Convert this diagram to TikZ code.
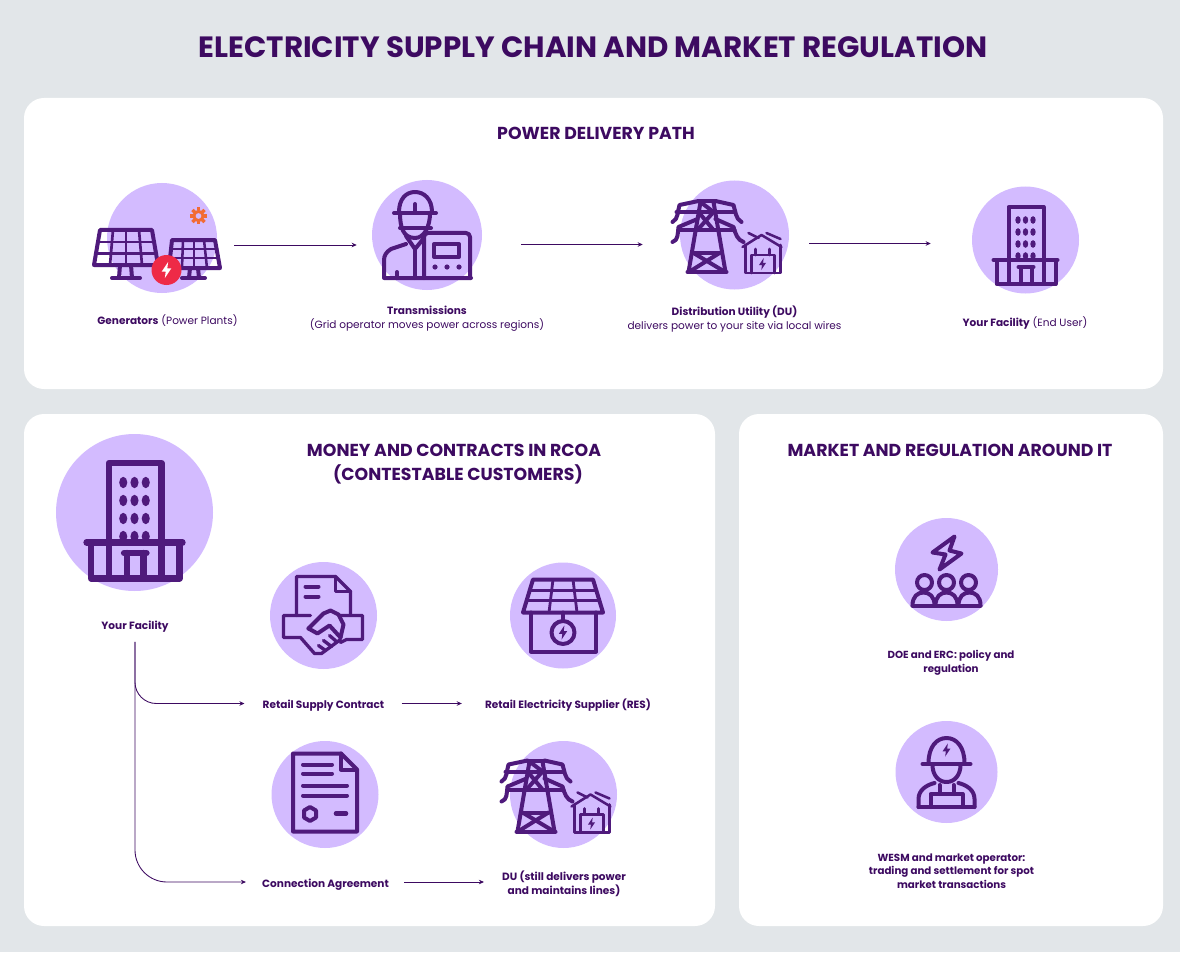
\documentclass[tikz,border=0pt]{standalone}
\usepackage{fontspec}
\setmainfont{Poppins}
\usepackage{tikz}
\usetikzlibrary{arrows.meta}

\definecolor{pagegray}{HTML}{E2E6E9}
\definecolor{inkdark}{HTML}{3D0A61}
\definecolor{iconink}{HTML}{4F1A7C}
\definecolor{disclilac}{HTML}{D3BBFF}
\definecolor{boltred}{HTML}{EE2A47}
\definecolor{gearorange}{HTML}{F26B35}
\def\px{0.75pt}

\tikzset{
  panel/.style={fill=white, rounded corners=15pt},
  disc/.style={circle, fill=disclilac, inner sep=0pt},
  label/.style={inner sep=0pt, text=inkdark, font=\fontsize{7.9}{10.2}\selectfont, align=center},
  boldlabel/.style={label, font=\fontsize{7.9}{10.2}\selectfont\bfseries},
  marketlabel/.style={label, font=\fontsize{7.7}{10.2}\selectfont\bfseries},
  head/.style={inner sep=0pt, text=inkdark, font=\fontsize{13}{18}\selectfont\bfseries, align=center},
  flow/.style={draw=inkdark, line width=0.65pt, -{Stealth[length=3.8pt, width=3.4pt]}},
  iconline/.style={draw=iconink, line width=3pt, line cap=round, line join=round},
  iconthin/.style={draw=iconink, line width=1.9pt, line cap=round, line join=round},
  bolt/.pic={
    \fill[pic actions] (1,-5) -- (-3,1) -- (-0.5,1) -- (-1,5) -- (3,-1) -- (0.5,-1) -- cycle;
  },
  building/.pic={
    \draw[iconline] (-17,-33) rectangle (18,44);
    \draw[iconline] (-32,20) -- (32,20);
    \draw[iconline] (-29,20) -- (-29,44) -- (30,44) -- (30,20);
    \draw[iconline] (-7,27) -- (8,27);
    \draw[iconline] (-5,27) -- (-5,44);
    \draw[iconline] (6,27) -- (6,44);
    \foreach \x in {-7.5,0,7.5} {
      \foreach \y in {-20,-8,4,16} {
        \fill[iconink] (\x,\y) ellipse (2.7 and 3.8);
      }
    }
  },
  tower/.pic={
    % mast
    \draw[iconline] (-34,-33) -- (-46,37);
    \draw[iconline] (-21,-33) -- (-9,37);
    \draw[iconline] (-47,37) -- (-8,37);
    \draw[iconline] (-36,-34) -- (-19,-34);
    % arms
    \draw[iconline] (-36,-34) -- (-55,-30) .. controls (-57,-24) and (-56,-16) .. (-62,-13);
    \draw[iconline] (-19,-34) -- (-1,-30) .. controls (1,-24) and (1,-16) .. (7,-13);
    \draw[iconline] (-58,-23) -- (-1,-23);
    \draw[iconline] (-37,-16) -- (-56,-8) .. controls (-57,-1) and (-56,5) .. (-62,7);
    \draw[iconline] (-19,-16) -- (-1,-8) .. controls (1,-1) and (3,5) .. (9,7);
    \draw[iconline] (-56,-5) -- (0,-5);
    % lattice
    \draw[iconline] (-34,-33) -- (-21,-23);
    \draw[iconline] (-36,-23) -- (-21,-5);
    \draw[iconline] (-21,-23) -- (-37,-5);
    \draw[iconline] (-41,18) -- (-15,18);
    \draw[iconline] (-41,18) -- (-11,36);
    \draw[iconline] (-15,18) -- (-44,36);
    % substation
    \draw[iconthin] (8,12) -- (27,0) -- (47,12);
    \draw[iconthin] (11,10) -- (11,38) -- (46,38) -- (46,10);
    \draw[iconthin] (17,38) -- (17,20) -- (40,20) -- (40,38);
    \draw[iconthin] (21,14) -- (21,20);
    \draw[iconthin] (35,14) -- (35,20);
    \draw[iconthin] (14,-2) -- (24,3);
    \draw[iconthin] (32,-2) -- (46,4);
    \pic[iconink, scale=1.2] at (28,29) {bolt};
  },
  solarpanel/.pic={
    % big panel
    \draw[iconline] (-62,-8) -- (-10,-8) -- (-4,27) -- (-68,27) -- cycle;
    \draw[iconline, line width=2pt] (-64,4) -- (-8,4);
    \draw[iconline, line width=2pt] (-66,15.5) -- (-6,15.5);
    \foreach \a/\b in {-49/-52, -36/-36, -23/-20} {
      \draw[iconline, line width=2pt] (\a,-8) -- (\b,27);
    }
    \draw[iconline] (-42,27) -- (-43,40);
    \draw[iconline] (-31,27) -- (-30,40);
    \draw[iconline] (-50,40) -- (-22,40);
    % small panel
    \draw[iconline] (10,2) -- (53,2) -- (58,30) -- (7,30) -- cycle;
    \draw[iconline, line width=1.9pt] (9,11) -- (55,11);
    \draw[iconline, line width=1.9pt] (8,20) -- (56,20);
    \foreach \a/\b in {21/20, 32/32, 42/45} {
      \draw[iconline, line width=1.9pt] (\a,2) -- (\b,30);
    }
    \draw[iconline] (28,30) -- (27,40);
    \draw[iconline] (36,30) -- (37,40);
    \draw[iconline] (20,40) -- (43,40);
    % red badge and gear
    \fill[boltred] (4.5,32) circle (15);
    \pic[white, scale=1.6] at (4.5,32) {bolt};
    \draw[gearorange, line width=2.2pt] (36.5,-22) circle (4.6);
    \foreach \a in {0,45,...,315} {
      \draw[gearorange, line width=2.6pt] (36.5,-22) ++(\a:5.5) -- ++(\a:3);
    }
  },
  gridworker/.pic={
    % hat and face
    \draw[iconline] (-28,-23) .. controls (-28,-36) and (-21,-43) .. (-12,-43) .. controls (-3,-43) and (5,-36) .. (5,-23);
    \draw[iconline] (-33,-22) -- (9,-22);
    \draw[iconline] (-12,-31) -- (-12,-22);
    \draw[iconline] (-27,-22) .. controls (-27,-8) and (-24,3) .. (-12,3) .. controls (-3,3) and (3,-8) .. (3,-22);
    \draw[iconline] (-27,-7) -- (4,-7);
    % body
    \draw[iconline] (-21,1) -- (-12,14) -- (-3,3);
    \draw[iconline] (-21,9) -- (-36,14) .. controls (-41,17) and (-43,21) .. (-43,25) -- (-43,43) -- (44,43);
    \draw[iconline] (-12,14) -- (-12,43);
    \draw[iconline] (-3,14) -- (-3,43);
    \draw[iconline] (-30,37) -- (-30,43);
    % device
    \draw[iconline, rounded corners=3pt] (-3,43) -- (-3,-2) -- (43,-2) -- (43,43);
    \draw[iconline] (7,9) rectangle (32,22);
    \foreach \x in {8,20,32} {
      \fill[iconink] (\x,32) circle (2.6);
    }
  },
  handshake/.pic={
    \draw[iconline, line width=2.5pt] (-27,0) -- (-27,-39) -- (12,-39) -- (27,-24) -- (27,-1);
    \draw[iconline, line width=2.5pt] (12,-39) -- (12,-24) -- (27,-24);
    \draw[iconline] (-18,-29) -- (-5,-29);
    \draw[iconline] (-18,-19) -- (-5,-19);
    \draw[iconline, line width=2.5pt] (-13,0) -- (-40,0) -- (-40,22) -- (-23,22) -- (-9,38) -- (-2,38) -- (17,24);
    \draw[iconline, line width=2.5pt] (15,0) -- (39,0) -- (39,24) -- (23,24) -- (17,27);
    \draw[iconline] (-15,13) -- (0,-2) -- (7,-5) -- (15,-1) -- (20,9) -- (17,22);
    \draw[iconline] (-15,13) -- (-6,18) -- (6,10) -- (17,22);
    \draw[iconline, line width=2.5pt] (-5,30) -- (2,35);
    \draw[iconline, line width=2.5pt] (0,25) -- (8,31);
    \draw[iconline, line width=2.5pt] (6,20) -- (13,26);
  },
  solarhouse/.pic={
    \draw[iconline] (-30,-36) -- (30,-36) -- (40,-3) -- (-40,-3) -- cycle;
    \draw[iconline, line width=2.1pt] (-33,-25) -- (33,-25);
    \draw[iconline, line width=2.1pt] (-36,-15) -- (36,-15);
    \foreach \a/\b in {-10/-14, 10/14} {
      \draw[iconline, line width=2.1pt] (\a,-36) -- (\b,-3);
    }
    \draw[iconline] (-32,-3) -- (-32,36) -- (33,36) -- (33,-3);
    \draw[iconline] (0,-3) -- (0,4);
    \draw[iconline] (0,17) circle (11.5);
    \pic[iconink, scale=1.4] at (0,17) {bolt};
  },
  contractdoc/.pic={
    \draw[iconline] (-32,-41) -- (16,-41) -- (32,-25) -- (32,37) -- (-32,37) -- cycle;
    \draw[iconline] (16,-41) -- (16,-25) -- (32,-25);
    \draw[iconline] (-22,-30) -- (7,-30);
    \draw[iconline] (-22,-21) -- (7,-21);
    \draw[iconline] (-22,-9) -- (22,-9);
    \draw[iconline] (-22,1) -- (22,1);
    \draw[iconline] (-15,12.5) -- (-9,16) -- (-9,23) -- (-15,26.5) -- (-21,23) -- (-21,16) -- cycle;
    \draw[iconline, line width=3.4pt] (11,19) -- (21,19);
  },
  crowdbolt/.pic={
    \draw[iconline] (8,-33) -- (-14,-17) -- (-1,-15) -- (-7,0) -- (15,-16) -- (3,-19) -- cycle;
    \foreach \x in {-22,0,22} {
      \draw[iconline] (\x,13) circle (7.5);
    }
    \foreach \x in {-23,0,23} {
      \draw[iconline] (\x-11,36) .. controls (\x-11,27) and (\x-6,23) .. (\x,23) .. controls (\x+6,23) and (\x+11,27) .. (\x+11,36);
    }
    \draw[iconline] (-34,36) -- (34,36);
  },
  hardhat/.pic={
    \draw[iconline] (-18,-9) .. controls (-18,-25) and (-10,-34) .. (0,-34) .. controls (10,-34) and (18,-25) .. (18,-9);
    \draw[iconline] (-24,-8) -- (24,-8);
    \pic[iconink, scale=1.3] at (0,-22) {bolt};
    \draw[iconline] (-14,-7) .. controls (-14,3) and (-8,10) .. (0,10) .. controls (8,10) and (14,3) .. (14,-7);
    \draw[iconline] (-28,35) -- (-28,27) .. controls (-28,18) and (-20,13) .. (-12,11);
    \draw[iconline] (28,35) -- (28,27) .. controls (28,18) and (20,13) .. (12,11);
    \draw[iconline] (-28,35) -- (28,35);
    \draw[iconline] (-16,35) -- (-16,22) -- (16,22) -- (16,35);
    \draw[iconline] (-7,13) -- (-7,22);
    \draw[iconline] (7,13) -- (7,22);
  }
}

\begin{document}
\begin{tikzpicture}[x=\px, y=-\px, >=Stealth]
  \useasboundingbox[fill=pagegray] (0,0) rectangle (1180,952);

  % --- panels ---
  \fill[panel] (24,98) rectangle (1163,389);
  \fill[panel] (24,414) rectangle (715,926);
  \fill[panel] (739,414) rectangle (1163,926);

  % --- titles ---
  \node[head, font=\fontsize{22}{26}\selectfont\bfseries] (maintitle) at (593,47) {ELECTRICITY SUPPLY CHAIN AND MARKET REGULATION};
  \node[head] (pathtitle) at (596,133) {POWER DELIVERY PATH};
  \node[head] (moneytitle) at (454,464) {MONEY AND CONTRACTS IN RCOA\\\hspace*{6pt}(CONTESTABLE CUSTOMERS)};
  \node[head] (markettitle) at (950,450) {MARKET AND REGULATION AROUND IT};

  % --- discs ---
  \foreach \name/\cx/\cy/\dia in {gen/162/238/110, trans/427/235/110, du/734.5/235/109, site/1025.5/240/107,
                                  bigsite/134.5/512.5/157, retail/323.5/615.5/107, res/563/615.5/106,
                                  conn/325/794.5/107, dulocal/563.5/794.5/107, doe/946.5/569.5/103, wesm/946.5/772/102} {
    \node[disc, minimum size=\dia*\px] (\name) at (\cx,\cy) {};
  }

  % --- icons ---
  \pic at (gen.center) {solarpanel};
  \pic at (trans.center) {gridworker};
  \pic at (du.center) {tower};
  \pic at (site.center) {building};
  \pic[scale=1.5, iconline/.append style={line width=4.7pt}] at (bigsite.center) {building};
  \pic at (retail.center) {handshake};
  \pic at (res.center) {solarhouse};
  \pic at (conn.center) {contractdoc};
  \pic at (dulocal.center) {tower};
  \pic at (doe.center) {crowdbolt};
  \pic at (wesm.center) {hardhat};

  % --- power delivery labels ---
  \node[label] (genlabel) at (167.5,321) {\textbf{Generators} (Power Plants)};
  \node[label] (translabel) at (427,319) {\textbf{Transmissions}\\(Grid operator moves power across regions)};
  \node[label] (dulabel) at (734.5,319) {\textbf{Distribution Utility (DU)}\\delivers power to your site via local wires};
  \node[label] (sitelabel) at (1025,323) {\textbf{Your Facility} (End User)};

  % --- contract labels ---
  \node[boldlabel] (bigsitelabel) at (135,627) {Your Facility};
  \node[boldlabel] (retaillabel) at (323.5,706) {Retail Supply Contract};
  \node[boldlabel] (reslabel) at (568,705) {Retail Electricity Supplier (RES)};
  \node[boldlabel] (connlabel) at (325.5,885) {Connection Agreement};
  \node[boldlabel] (dulocallabel) at (564,883.5) {DU (still delivers power\\and maintains lines)};

  % --- market labels ---
  \node[marketlabel] (doelabel) at (951,662.5) {DOE and ERC: policy and\\regulation};
  \node[marketlabel] (wesmlabel) at (951.5,871) {WESM and market operator:\\trading and settlement for spot\\market transactions};

  % --- arrows ---
  \draw[flow] ([shift={(17,7)}]gen.east) -- ([shift={(-15,10)}]trans.west);
  \draw[flow] ([shift={(39,9.5)}]trans.east) -- ([shift={(-37,9.5)}]du.west);
  \draw[flow] ([shift={(20,8.5)}]du.east) -- ([shift={(-41,3.5)}]site.west);
  \draw[flow] ([shift={(17,-2.5)}]retaillabel.east) -- ([shift={(-23,-1.5)}]reslabel.west);
  \draw[flow] ([shift={(15,-3)}]connlabel.east) -- ([shift={(-18,-1.5)}]dulocallabel.west);
  \draw[flow, rounded corners=16pt] ([shift={(0,9)}]bigsitelabel.south) |- ([shift={(-18,-2.5)}]retaillabel.west);
  \draw[flow, rounded corners=24pt] ([shift={(0,9)}]bigsitelabel.south) |- ([shift={(-16,-3)}]connlabel.west);
\end{tikzpicture}
\end{document}
